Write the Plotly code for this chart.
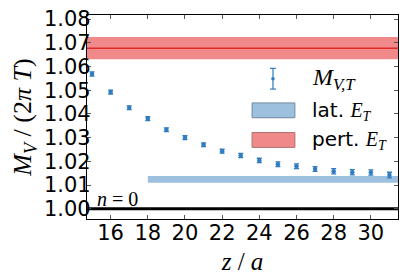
import plotly.graph_objects as go

# ---- data ----
z = [15, 16, 17, 18, 19, 20, 21, 22, 23, 24, 25, 26, 27, 28, 29, 30, 31]
M = [1.0568, 1.0492, 1.0426, 1.0380, 1.0333, 1.0300, 1.0270, 1.0243, 1.0225,
     1.0204, 1.0188, 1.0179, 1.0168, 1.0158, 1.0154, 1.0153, 1.0142]
M_err = [0.0009, 0.0008, 0.0008, 0.0008, 0.0008, 0.0008, 0.0008, 0.0008, 0.0009,
         0.0009, 0.0010, 0.0010, 0.0010, 0.0011, 0.0011, 0.0011, 0.0012]
pert_center, pert_err = 1.0677, 0.0047
pert_x = [14.0, 32.0]
lat_center, lat_err = 1.0124, 0.0014
lat_x = [18.0, 32.0]
n0_level = 1.00
xticks = [16, 18, 20, 22, 24, 26, 28, 30]
yticks = [1.00, 1.01, 1.02, 1.03, 1.04, 1.05, 1.06, 1.07, 1.08]
x_range = [14.73, 31.46]
y_range = [0.9957, 1.0817]

W, H = 407, 280
L, R, T, B = 87.3, 399.5, 13.0, 219.5

def px(x):
    return (x - L) / (R - L)

def py(y):
    return (B - y) / (B - T)

blue = "#2f7cc0"
red_fill = "#f08a8a"
red_line = "#e02a2a"
blue_fill = "#9cc0de"

fig = go.Figure()

# pert band
fig.add_trace(go.Scatter(
    x=[pert_x[0], pert_x[1], pert_x[1], pert_x[0]],
    y=[pert_center - pert_err, pert_center - pert_err, pert_center + pert_err, pert_center + pert_err],
    fill="toself", fillcolor=red_fill, line=dict(width=0), mode="lines",
    hoverinfo="skip", showlegend=False))
fig.add_trace(go.Scatter(x=pert_x, y=[pert_center, pert_center], mode="lines",
                         line=dict(color=red_line, width=1.5), showlegend=False))
# lat band
fig.add_trace(go.Scatter(
    x=[lat_x[0], lat_x[1], lat_x[1], lat_x[0]],
    y=[lat_center - lat_err, lat_center - lat_err, lat_center + lat_err, lat_center + lat_err],
    fill="toself", fillcolor=blue_fill, line=dict(width=0), mode="lines",
    hoverinfo="skip", showlegend=False))
# n=0 line
fig.add_trace(go.Scatter(x=[14.0, 32.0], y=[n0_level, n0_level], mode="lines",
                         line=dict(color="black", width=3), showlegend=False))
# data
fig.add_trace(go.Scatter(
    x=z, y=M, mode="markers",
    marker=dict(color=blue, size=4.5),
    error_y=dict(type="data", array=M_err, color=blue, thickness=1.3, width=2.5),
    showlegend=False))

axis_common = dict(showgrid=False, zeroline=False, showline=True, linecolor="black",
                   linewidth=1.2, mirror="ticks", ticks="inside", ticklen=4,
                   tickcolor="#555555", tickwidth=1,
                   tickfont=dict(family="DejaVu Sans", size=21, color="black"))

fig.update_xaxes(range=x_range, tickvals=xticks, ticktext=[str(t) for t in xticks],
                 ticklabelstandoff=-5,
                 title=dict(text="<i>z</i> / <i>a</i>", standoff=8,
                            font=dict(family="Liberation Serif", size=25, color="black")),
                 **axis_common)
fig.update_yaxes(range=y_range, tickvals=yticks, ticktext=[f"{t:.2f}" for t in yticks],
                 ticklabelstandoff=-9,
                 title=dict(text="<i>M</i><sub><i>V</i></sub> / (2<i>π T</i>)", standoff=4,
                            font=dict(family="Liberation Serif", size=26, color="black")),
                 **axis_common)

shapes = []
annotations = []
# legend: errorbar sample
ex, ey0, ey1 = 274.0, 67.0, 88.0
shapes.append(dict(type="line", xref="paper", yref="paper", x0=px(ex), x1=px(ex),
                   y0=py(ey0), y1=py(ey1), line=dict(color=blue, width=1.2)))
for yy in (ey0, ey1):
    shapes.append(dict(type="line", xref="paper", yref="paper", x0=px(ex - 3), x1=px(ex + 3),
                       y0=py(yy), y1=py(yy), line=dict(color=blue, width=1.2)))
shapes.append(dict(type="circle", xref="paper", yref="paper", x0=px(ex - 1.8), x1=px(ex + 1.8),
                   y0=py(77.5 - 1.8), y1=py(77.5 + 1.8), fillcolor=blue, line=dict(width=0)))
# legend patches
shapes.append(dict(type="rect", xref="paper", yref="paper", x0=px(253), x1=px(296),
                   y0=py(102), y1=py(117), fillcolor=blue_fill, line=dict(color="#6f8aa0", width=1)))
shapes.append(dict(type="rect", xref="paper", yref="paper", x0=px(253), x1=px(296),
                   y0=py(132), y1=py(147), fillcolor=red_fill, line=dict(color="#b07070", width=1)))

annotations.append(dict(xref="paper", yref="paper", x=px(311), y=py(78), xanchor="left",
                        yanchor="middle", showarrow=False,
                        text="<i>M</i><sub><i>V,T</i></sub>",
                        font=dict(family="Liberation Serif", size=24, color="black")))
annotations.append(dict(xref="paper", yref="paper", x=px(311), y=py(110), xanchor="left",
                        yanchor="middle", showarrow=False,
                        text="lat. <span style='font-family:Liberation Serif'><i>E</i><sub><i>T</i></sub></span>",
                        font=dict(family="DejaVu Sans", size=20, color="black")))
annotations.append(dict(xref="paper", yref="paper", x=px(311), y=py(140), xanchor="left",
                        yanchor="middle", showarrow=False,
                        text="pert. <span style='font-family:Liberation Serif'><i>E</i><sub><i>T</i></sub></span>",
                        font=dict(family="DejaVu Sans", size=20, color="black")))
annotations.append(dict(xref="paper", yref="paper", x=px(95), y=py(199), xanchor="left",
                        yanchor="middle", showarrow=False,
                        text="<i>n</i> = 0",
                        font=dict(family="Liberation Serif", size=20, color="black")))

fig.update_layout(width=W, height=H, margin=dict(l=L, r=W - R, t=T, b=H - B),
                  plot_bgcolor="white", paper_bgcolor="white",
                  shapes=shapes, annotations=annotations, showlegend=False)

fig.write_html("out.html", config={"displayModeBar": False})

# remove default page margin so the figure sits at the window's top-left corner
with open("out.html", "r", encoding="utf-8") as f:
    html = f.read()
html = html.replace("<body>", "<body style=\"margin:0;overflow:hidden\">", 1)
with open("out.html", "w", encoding="utf-8") as f:
    f.write(html)
